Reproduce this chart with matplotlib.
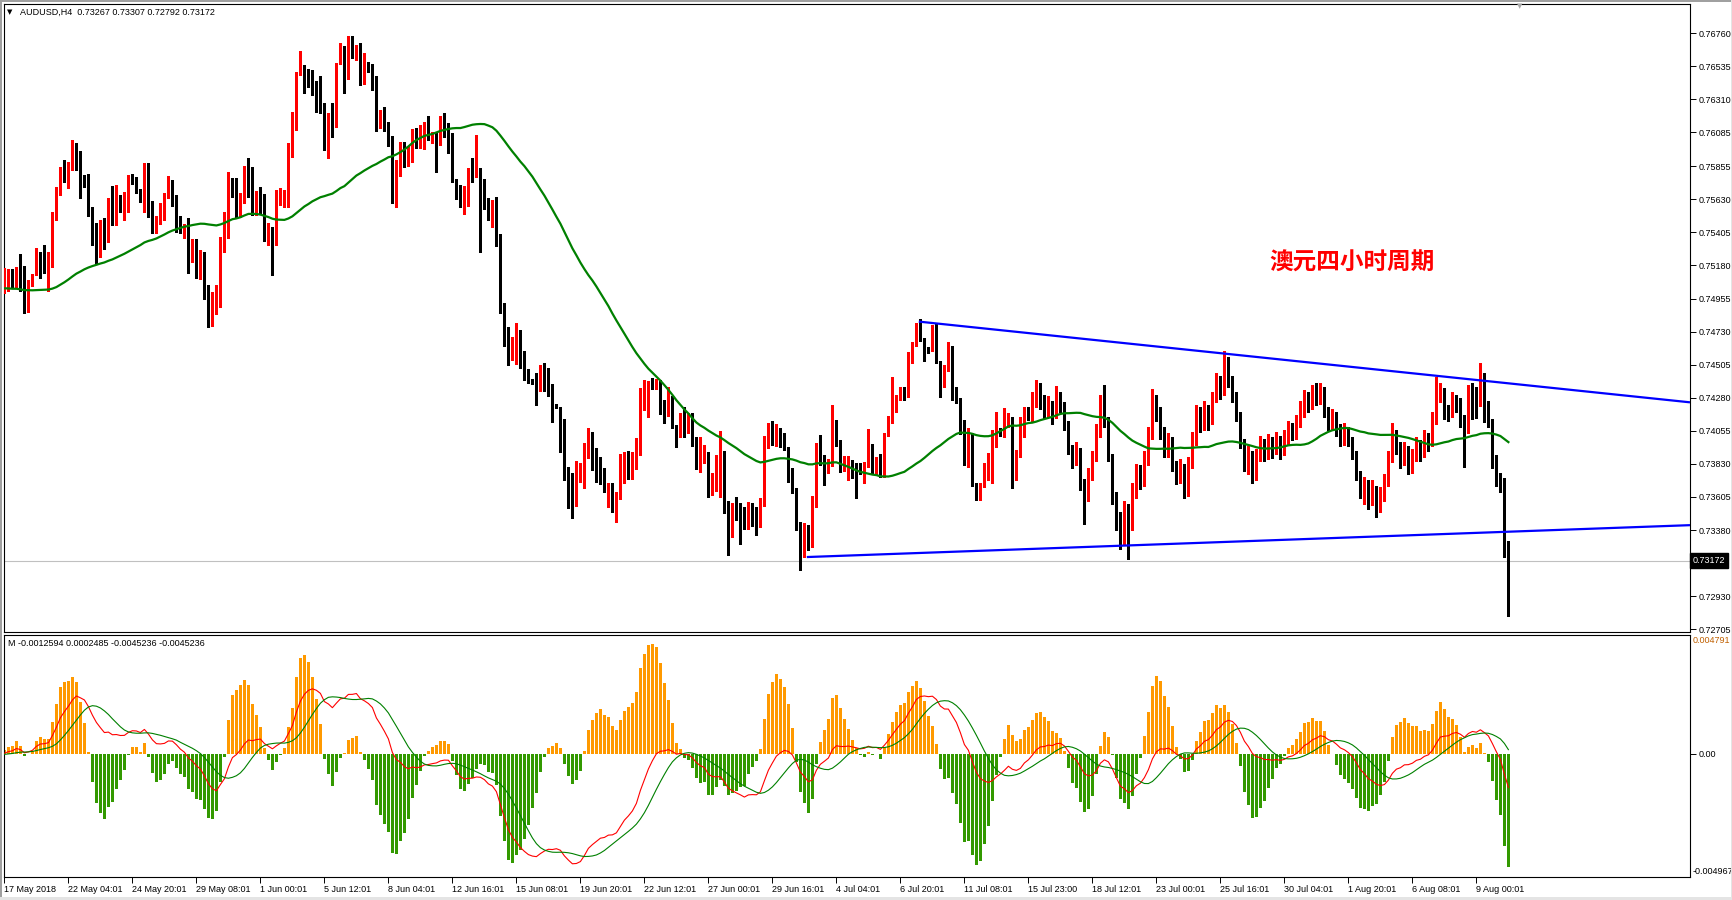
import numpy as np
import pandas as pd
import matplotlib
matplotlib.use("Agg")
import matplotlib.pyplot as plt
from matplotlib.patches import Rectangle
from matplotlib.transforms import blended_transform_factory

W, H = 1733, 900

# AUDUSD H4, 17 May 2018 12:01 .. 10 Aug 2018 08:01
open_first = 0.75002
close = [
    0.75040, 0.75086, 0.75070, 0.75150, 0.75013, 0.74893, 0.75066, 0.75111, 0.75252, 0.75218,
    0.75145, 0.75190, 0.75517, 0.75667, 0.75830, 0.75785, 0.75841, 0.75971, 0.75955, 0.75739,
    0.75735, 0.75517, 0.75372, 0.75365, 0.75406, 0.75383, 0.75612, 0.75472, 0.75599, 0.75553,
    0.75608, 0.75762, 0.75744, 0.75678, 0.75621, 0.75853, 0.75512, 0.75410, 0.75456, 0.75599,
    0.75644, 0.75751, 0.75653, 0.75485, 0.75410, 0.75433, 0.75267, 0.75326, 0.75218, 0.75229,
    0.75000, 0.74870, 0.74900, 0.74980, 0.75354, 0.75381, 0.75735, 0.75732, 0.75517, 0.75619,
    0.75755, 0.75717, 0.75531, 0.75626, 0.75615, 0.75376, 0.75426, 0.75403, 0.75660, 0.75678,
    0.75690, 0.75995, 0.76109, 0.76494, 0.76533, 0.76476, 0.76442, 0.76397, 0.76302, 0.76238,
    0.75982, 0.76215, 0.76152, 0.76556, 0.76619, 0.76515, 0.76714, 0.76601, 0.76674, 0.76415,
    0.76544, 0.76522, 0.76454, 0.76115, 0.76227, 0.76143, 0.76045, 0.75667, 0.75853, 0.75993,
    0.75870, 0.75932, 0.76095, 0.75982, 0.76039, 0.76109, 0.76039, 0.76061, 0.76057, 0.76125,
    0.76084, 0.76041, 0.75757, 0.75721, 0.75612, 0.75712, 0.75830, 0.75791, 0.75835, 0.75757,
    0.75635, 0.75501, 0.75542, 0.75326, 0.74866, 0.74700, 0.74571, 0.74605, 0.74639, 0.74485,
    0.74458, 0.74390, 0.74385, 0.74356, 0.74474, 0.74424, 0.74356, 0.74220, 0.74215, 0.74050,
    0.73771, 0.73723, 0.73641, 0.73739, 0.73761, 0.73929, 0.73993, 0.73845, 0.73807, 0.73789,
    0.73652, 0.73693, 0.73566, 0.73612, 0.73807, 0.73834, 0.73759, 0.73807, 0.73959, 0.74288,
    0.74299, 0.74390, 0.74383, 0.74400, 0.74254, 0.74174, 0.74224, 0.74083, 0.74020, 0.74170,
    0.74072, 0.74122, 0.73959, 0.73852, 0.73863, 0.73898, 0.73619, 0.73755, 0.73823, 0.73829,
    0.73539, 0.73414, 0.73517, 0.73489, 0.73453, 0.73392, 0.73566, 0.73471, 0.73426, 0.73560,
    0.73980, 0.74060, 0.74000, 0.74050, 0.73952, 0.73936, 0.73793, 0.73657, 0.73392, 0.73240,
    0.73369, 0.73267, 0.73551, 0.73952, 0.73861, 0.73771, 0.73811, 0.74106, 0.73970, 0.73784,
    0.73816, 0.73845, 0.73789, 0.73780, 0.73766, 0.73839, 0.73925, 0.73777, 0.73845, 0.73743,
    0.74034, 0.74118, 0.74224, 0.74276, 0.74338, 0.74330, 0.74587, 0.74639, 0.74787, 0.74673,
    0.74617, 0.74594, 0.74678, 0.74526, 0.74356, 0.74496, 0.74632, 0.74328, 0.74270, 0.74038,
    0.73857, 0.74043, 0.73693, 0.73607, 0.73693, 0.73811, 0.73816, 0.73952, 0.74050, 0.74034,
    0.74095, 0.74147, 0.73823, 0.73880, 0.74016, 0.74201, 0.74140, 0.74250, 0.74330, 0.74270,
    0.74180, 0.74240, 0.74160, 0.74290, 0.74230, 0.74090, 0.73930, 0.73850, 0.73920, 0.73700,
    0.73620, 0.73760, 0.73880, 0.74050, 0.74250, 0.74120, 0.73880, 0.73600, 0.73420, 0.73330,
    0.73520, 0.73400, 0.73640, 0.73780, 0.73700, 0.73860, 0.74030, 0.74250, 0.74180, 0.74050,
    0.73920, 0.73990, 0.73820, 0.73740, 0.73810, 0.73700, 0.73850, 0.74000, 0.74180, 0.74100,
    0.74200, 0.74120, 0.74280, 0.74400, 0.74330, 0.74480, 0.74400, 0.74290, 0.74150, 0.73980,
    0.73820, 0.73900, 0.73770, 0.73880, 0.73960, 0.73900, 0.73970, 0.73930, 0.73990, 0.73920,
    0.74000, 0.74080, 0.74030, 0.74110, 0.74200, 0.74280, 0.74220, 0.74320, 0.74270, 0.74340,
    0.74200, 0.74100, 0.74160, 0.74060, 0.74000, 0.74060, 0.73990, 0.73900, 0.73750, 0.73640,
    0.73700, 0.73590, 0.73660, 0.73570, 0.73620, 0.73700, 0.73870, 0.74020, 0.73950, 0.73850,
    0.73930, 0.73820, 0.73880, 0.73960, 0.73900, 0.74000, 0.73960, 0.74130, 0.74310, 0.74344,
    0.74156, 0.74150, 0.74265, 0.74231, 0.74118, 0.74043, 0.74367, 0.74328, 0.74226, 0.74390,
    0.74163, 0.74124, 0.73875, 0.73766, 0.73716, 0.73260, 0.73172,
]
high = [
    0.75161, 0.75154, 0.75154, 0.75172, 0.75258, 0.75179, 0.75082, 0.75122, 0.75297, 0.75274,
    0.75320, 0.75270, 0.75546, 0.75717, 0.75853, 0.75898, 0.75887, 0.76034, 0.76016, 0.75959,
    0.75796, 0.75803, 0.75576, 0.75467, 0.75490, 0.75501, 0.75637, 0.75721, 0.75728, 0.75660,
    0.75683, 0.75796, 0.75803, 0.75785, 0.75698, 0.75880, 0.75880, 0.75619, 0.75517, 0.75603,
    0.75671, 0.75789, 0.75762, 0.75660, 0.75517, 0.75462, 0.75501, 0.75358, 0.75358, 0.75286,
    0.75270, 0.75050, 0.75000, 0.75050, 0.75376, 0.75546, 0.75814, 0.75773, 0.75773, 0.75671,
    0.75855, 0.75909, 0.75853, 0.75687, 0.75717, 0.75667, 0.75472, 0.75444, 0.75694, 0.75705,
    0.75694, 0.76011, 0.76227, 0.76499, 0.76640, 0.76544, 0.76515, 0.76510, 0.76438, 0.76470,
    0.76284, 0.76220, 0.76284, 0.76560, 0.76696, 0.76674, 0.76742, 0.76742, 0.76680, 0.76692,
    0.76624, 0.76567, 0.76551, 0.76470, 0.76238, 0.76256, 0.76159, 0.76061, 0.75898, 0.76023,
    0.76023, 0.75993, 0.76107, 0.76113, 0.76136, 0.76154, 0.76197, 0.76091, 0.76091, 0.76197,
    0.76215, 0.76147, 0.76079, 0.75766, 0.75728, 0.75721, 0.75841, 0.75909, 0.76068, 0.75841,
    0.75766, 0.75642, 0.75626, 0.75644, 0.75394, 0.74927, 0.74759, 0.74696, 0.74787, 0.74741,
    0.74598, 0.74474, 0.74406, 0.74447, 0.74503, 0.74514, 0.74481, 0.74374, 0.74238, 0.74208,
    0.74134, 0.73812, 0.73766, 0.73850, 0.73834, 0.73970, 0.74072, 0.74049, 0.73936, 0.73875,
    0.73805, 0.73698, 0.73698, 0.73641, 0.73897, 0.73913, 0.73920, 0.73909, 0.74004, 0.74344,
    0.74401, 0.74396, 0.74412, 0.74410, 0.74390, 0.74265, 0.74351, 0.74292, 0.74095, 0.74179,
    0.74220, 0.74174, 0.74179, 0.74011, 0.74015, 0.73959, 0.73913, 0.73766, 0.73891, 0.74056,
    0.73920, 0.73580, 0.73566, 0.73607, 0.73562, 0.73539, 0.73573, 0.73562, 0.73539, 0.73600,
    0.74020, 0.74110, 0.74120, 0.74100, 0.74072, 0.74038, 0.73947, 0.73800, 0.73664, 0.73437,
    0.73430, 0.73414, 0.73612, 0.73975, 0.74027, 0.73891, 0.73861, 0.74231, 0.74129, 0.73993,
    0.73884, 0.73884, 0.73857, 0.73839, 0.73834, 0.73845, 0.74065, 0.73966, 0.73879, 0.73898,
    0.74038, 0.74156, 0.74424, 0.74299, 0.74351, 0.74351, 0.74594, 0.74660, 0.74791, 0.74814,
    0.74685, 0.74628, 0.74775, 0.74782, 0.74530, 0.74503, 0.74662, 0.74632, 0.74351, 0.74276,
    0.74129, 0.74072, 0.74043, 0.73702, 0.73698, 0.73834, 0.73902, 0.74061, 0.74186, 0.74072,
    0.74208, 0.74179, 0.74147, 0.73925, 0.74152, 0.74215, 0.74215, 0.74320, 0.74400, 0.74380,
    0.74300, 0.74290, 0.74260, 0.74360, 0.74320, 0.74250, 0.74120, 0.73960, 0.73980, 0.73940,
    0.73730, 0.73800, 0.73920, 0.74100, 0.74300, 0.74370, 0.74150, 0.73900, 0.73640, 0.73500,
    0.73580, 0.73560, 0.73700, 0.73830, 0.73820, 0.73920, 0.74080, 0.74340, 0.74300, 0.74220,
    0.74080, 0.74040, 0.74010, 0.73850, 0.73860, 0.73830, 0.73880, 0.74050, 0.74230, 0.74220,
    0.74260, 0.74230, 0.74320, 0.74450, 0.74430, 0.74600, 0.74560, 0.74430, 0.74320, 0.74180,
    0.74000, 0.73950, 0.73920, 0.73930, 0.74020, 0.74000, 0.74030, 0.74010, 0.74050, 0.74020,
    0.74060, 0.74120, 0.74110, 0.74160, 0.74260, 0.74330, 0.74320, 0.74370, 0.74380, 0.74380,
    0.74350, 0.74220, 0.74200, 0.74180, 0.74100, 0.74110, 0.74080, 0.74010, 0.73920, 0.73780,
    0.73740, 0.73720, 0.73720, 0.73680, 0.73670, 0.73760, 0.73920, 0.74110, 0.74060, 0.73980,
    0.73980, 0.73950, 0.73930, 0.74010, 0.73990, 0.74060, 0.74040, 0.74180, 0.74420, 0.74378,
    0.74344, 0.74231, 0.74322, 0.74299, 0.74276, 0.74163, 0.74367, 0.74378, 0.74356, 0.74519,
    0.74451, 0.74258, 0.74133, 0.73891, 0.73770, 0.73736, 0.73307,
]
low = [
    0.74990, 0.75009, 0.75025, 0.75036, 0.75009, 0.74859, 0.74866, 0.75043, 0.75161, 0.75093,
    0.75127, 0.75009, 0.75172, 0.75490, 0.75660, 0.75751, 0.75705, 0.75830, 0.75830, 0.75637,
    0.75712, 0.75517, 0.75320, 0.75199, 0.75240, 0.75290, 0.75342, 0.75456, 0.75456, 0.75546,
    0.75490, 0.75546, 0.75735, 0.75671, 0.75614, 0.75546, 0.75508, 0.75404, 0.75404, 0.75558,
    0.75490, 0.75637, 0.75585, 0.75410, 0.75404, 0.75365, 0.75132, 0.75206, 0.75093, 0.75086,
    0.74950, 0.74760, 0.74770, 0.74850, 0.74900, 0.75274, 0.75365, 0.75648, 0.75501, 0.75512,
    0.75603, 0.75648, 0.75524, 0.75524, 0.75540, 0.75349, 0.75320, 0.75116, 0.75320, 0.75592,
    0.75576, 0.75580, 0.75921, 0.76102, 0.76476, 0.76356, 0.76397, 0.76340, 0.76227, 0.76215,
    0.75966, 0.75914, 0.76052, 0.76125, 0.76551, 0.76356, 0.76447, 0.76590, 0.76578, 0.76408,
    0.76415, 0.76499, 0.76374, 0.76095, 0.76113, 0.76098, 0.75993, 0.75608, 0.75580, 0.75789,
    0.75850, 0.75857, 0.75887, 0.75977, 0.75977, 0.75971, 0.76034, 0.76011, 0.75819, 0.76000,
    0.76052, 0.75943, 0.75751, 0.75630, 0.75576, 0.75531, 0.75585, 0.75751, 0.75780, 0.75274,
    0.75562, 0.75490, 0.75444, 0.75315, 0.74859, 0.74632, 0.74503, 0.74537, 0.74510, 0.74481,
    0.74401, 0.74378, 0.74374, 0.74231, 0.74329, 0.74329, 0.74295, 0.74118, 0.74208, 0.73913,
    0.73721, 0.73528, 0.73460, 0.73546, 0.73709, 0.73668, 0.73868, 0.73789, 0.73709, 0.73693,
    0.73641, 0.73539, 0.73505, 0.73437, 0.73589, 0.73698, 0.73725, 0.73725, 0.73793, 0.73891,
    0.74197, 0.74147, 0.74337, 0.74337, 0.74170, 0.74111, 0.74156, 0.74072, 0.73943, 0.74011,
    0.74015, 0.74038, 0.73952, 0.73795, 0.73777, 0.73834, 0.73603, 0.73619, 0.73648, 0.73607,
    0.73498, 0.73210, 0.73331, 0.73448, 0.73283, 0.73387, 0.73385, 0.73408, 0.73346, 0.73400,
    0.73540, 0.73940, 0.73960, 0.73950, 0.73947, 0.73925, 0.73709, 0.73630, 0.73380, 0.73110,
    0.73195, 0.73244, 0.73262, 0.73539, 0.73823, 0.73687, 0.73766, 0.73834, 0.73952, 0.73777,
    0.73784, 0.73721, 0.73732, 0.73596, 0.73762, 0.73698, 0.73811, 0.73766, 0.73755, 0.73739,
    0.73739, 0.74020, 0.74111, 0.74186, 0.74265, 0.74265, 0.74288, 0.74519, 0.74632, 0.74669,
    0.74533, 0.74583, 0.74605, 0.74519, 0.74283, 0.74351, 0.74465, 0.74265, 0.74242, 0.74034,
    0.73823, 0.73811, 0.73680, 0.73585, 0.73585, 0.73671, 0.73721, 0.73698, 0.73947, 0.74020,
    0.74016, 0.74084, 0.73664, 0.73721, 0.73875, 0.74011, 0.74129, 0.74120, 0.74220, 0.74200,
    0.74140, 0.74150, 0.74100, 0.74140, 0.74180, 0.74060, 0.73900, 0.73800, 0.73820, 0.73650,
    0.73420, 0.73580, 0.73720, 0.73850, 0.74010, 0.74080, 0.73850, 0.73560, 0.73380, 0.73250,
    0.73280, 0.73180, 0.73380, 0.73600, 0.73660, 0.73680, 0.73820, 0.74000, 0.74120, 0.74000,
    0.73880, 0.73880, 0.73780, 0.73690, 0.73700, 0.73600, 0.73610, 0.73800, 0.73960, 0.74050,
    0.74060, 0.74060, 0.74100, 0.74250, 0.74270, 0.74300, 0.74350, 0.74250, 0.74120, 0.73940,
    0.73780, 0.73760, 0.73700, 0.73720, 0.73850, 0.73850, 0.73860, 0.73870, 0.73900, 0.73860,
    0.73890, 0.73960, 0.73990, 0.74000, 0.74080, 0.74150, 0.74180, 0.74200, 0.74230, 0.74240,
    0.74150, 0.74060, 0.74060, 0.74020, 0.73950, 0.73960, 0.73950, 0.73860, 0.73720, 0.73600,
    0.73560, 0.73520, 0.73550, 0.73470, 0.73500, 0.73580, 0.73680, 0.73840, 0.73900, 0.73800,
    0.73820, 0.73760, 0.73770, 0.73850, 0.73850, 0.73880, 0.73920, 0.73950, 0.74100, 0.74254,
    0.74133, 0.74124, 0.74147, 0.74186, 0.74084, 0.73811, 0.74043, 0.74133, 0.74140, 0.74226,
    0.74118, 0.74079, 0.73805, 0.73682, 0.73641, 0.73199, 0.72792,
]
# closes before the first visible bar, only used to seed MA(50) and MACD
warmup_close = [
    0.7512, 0.7518, 0.7515, 0.7521, 0.7516, 0.7510, 0.7514, 0.7519, 0.7513, 0.7508,
    0.7515, 0.7520, 0.7514, 0.7502, 0.7496, 0.7490, 0.7494, 0.7499, 0.7503, 0.7497,
    0.7491, 0.7488, 0.7493, 0.7498, 0.7501, 0.7505, 0.7500, 0.7495, 0.7492, 0.7497,
    0.7502, 0.7499, 0.7494, 0.7490, 0.7496, 0.7500, 0.7504, 0.7498, 0.7493, 0.7497,
    0.7501, 0.7505, 0.7502, 0.7498, 0.7501, 0.7504, 0.7500, 0.7497, 0.7501,
]

# trend lines drawn on the chart: anchor bars and prices
upper_line_bars = [228.6, 369.0]
upper_line_prices = [0.74798, 0.74398]
lower_line_bars = [200.6, 281.0]
lower_line_prices = [0.73196, 0.73275]

price_ticks = [0.72705, 0.72930, 0.73380, 0.73605, 0.73830, 0.74055, 0.74280, 0.74505, 0.74730,
               0.74955, 0.75180, 0.75405, 0.75630, 0.75855, 0.76085, 0.76310, 0.76535, 0.76760]
time_labels = ["17 May 2018", "22 May 04:01", "24 May 20:01", "29 May 08:01", "1 Jun 00:01",
               "5 Jun 12:01", "8 Jun 04:01", "12 Jun 16:01", "15 Jun 08:01", "19 Jun 20:01",
               "22 Jun 12:01", "27 Jun 00:01", "29 Jun 16:01", "4 Jul 04:01", "6 Jul 20:01",
               "11 Jul 08:01", "15 Jul 23:00", "18 Jul 12:01", "23 Jul 00:01", "25 Jul 16:01",
               "30 Jul 04:01", "1 Aug 20:01", "6 Aug 08:01", "9 Aug 00:01"]
label_every = 16

assert len(close) == len(high) == len(low) == 377

c = np.array(close)
hi = np.array(high)
lo = np.array(low)
o = np.r_[open_first, c[:-1]]
n = len(c)
x = np.arange(n)

# indicators
s = pd.Series(warmup_close + close)
k = len(warmup_close)
ma50 = s.rolling(50).mean().to_numpy()[k:]
macd = s.ewm(span=12, adjust=False).mean() - s.ewm(span=26, adjust=False).mean()
signal = macd.rolling(9).mean()
hist = (3 * (macd - signal)).to_numpy()[k:]
macd = macd.to_numpy()[k:]
signal = signal.to_numpy()[k:]

plt.rcParams['font.family'] = ['Liberation Sans', 'DejaVu Sans']
fig = plt.figure(figsize=(W / 100, H / 100), dpi=100)


def pane(x0, y0, x1, y1):
    return fig.add_axes([x0 / W, 1 - y1 / H, (x1 - x0) / W, (y1 - y0) / H])


ax = pane(4, 4, 1690, 632)
ax2 = pane(4, 635, 1690, 877)
XL = (-0.1, 421.4)
FS = 6.5

for a in (ax, ax2):
    a.set_xlim(*XL)
    for sp in a.spines.values():
        sp.set_linewidth(0.8)
        sp.set_color('black')

# --- price pane ---
ax.set_ylim(0.72686, 0.76959)
last = c[-1]
ax.axhline(last, color='#C0C0C0', lw=0.8, zorder=1)

col = np.where(c > o, '#FF0000', '#000000')
ax.vlines(x, lo, hi, colors=col, lw=0.75, antialiased=False, zorder=3)
ax.bar(x, np.maximum(np.abs(c - o), 6e-5), bottom=np.minimum(o, c), width=0.75,
       color=col, linewidth=0, antialiased=False, zorder=3)

ax.plot(x, ma50, color='#008000', lw=1.6, zorder=4)

for bars, prices in ((upper_line_bars, upper_line_prices), (lower_line_bars, lower_line_prices)):
    slope = (prices[1] - prices[0]) / (bars[1] - bars[0])
    ax.plot([bars[0], XL[1]], [prices[0], prices[0] + slope * (XL[1] - bars[0])],
            color='#0000FF', lw=1.6, zorder=5, solid_capstyle='butt')

ax.yaxis.tick_right()
ax.set_yticks(price_ticks, [f"{v:.5f}" for v in price_ticks])
ax.tick_params(axis='y', direction='out', length=4, width=0.7, pad=2, labelsize=FS)
ax.tick_params(axis='x', bottom=False, labelbottom=False)

tr = blended_transform_factory(ax.transAxes, ax.transData)
ax.text(1 + 3 / 1686, last, f"{last:.5f}", transform=tr, color='white', fontsize=FS,
        va='center', ha='left', clip_on=False,
        bbox=dict(boxstyle='square,pad=0.3', fc='black', ec='black'))

fig.text(1269 / W, 1 - 263 / H, "澳元四小时周期", color='#FF0000', fontsize=17,
         fontweight='bold', family=['Noto Sans CJK SC', 'DejaVu Sans'], va='center', ha='left')

# --- indicator pane ---
ax2.set_ylim(-0.004967, 0.004791)
ax2.bar(x, hist, width=0.75, color=np.where(hist >= 0, '#FF9900', '#339900'),
        linewidth=0, antialiased=False, zorder=2)
ax2.plot(x, macd, color='#FF0000', lw=0.8, zorder=3)
ax2.plot(x, signal, color='#008000', lw=0.8, zorder=3)

ax2.yaxis.tick_right()
ax2.set_yticks([0.0], ["0.00"])
ax2.tick_params(axis='y', direction='out', length=4, width=0.7, pad=2, labelsize=FS)
ax2.set_xticks(range(0, n, label_every)[:len(time_labels)], time_labels)
ax2.tick_params(axis='x', direction='out', length=4, width=0.7, pad=1.5, labelsize=FS)
for t in ax2.get_xticklabels():
    t.set_ha('left')
ax2.text(1 + 3 / 1686, 0.995, "0.004791", transform=ax2.transAxes, fontsize=FS,
         color='#C06000', va='top', ha='left', clip_on=False)
ax2.text(1 + 3 / 1686, 0.005, "-0.004967", transform=ax2.transAxes, fontsize=FS,
         color='black', va='bottom', ha='left', clip_on=False)

# --- headers and window frame ---
fig.text(7 / W, 1 - 12 / H, "▼", fontsize=5, va='center', ha='left', family='DejaVu Sans')
fig.text(20 / W, 1 - 12 / H, "AUDUSD,H4  0.73267 0.73307 0.72792 0.73172",
         fontsize=FS, va='center', ha='left')
fig.text(8 / W, 1 - 644 / H, "M -0.0012594 0.0002485 -0.0045236 -0.0045236",
         fontsize=FS, va='center', ha='left')
fig.text(1520 / W, 1 - 6 / H, "▼", fontsize=5, va='center', ha='center',
         color='#A8A8A8', family='DejaVu Sans')

fig.add_artist(Rectangle((0, 1 - 2 / H), 1, 2 / H, transform=fig.transFigure, color='#A0A0A0', lw=0))
fig.add_artist(Rectangle((0, 0), 2 / W, 1, transform=fig.transFigure, color='#A0A0A0', lw=0))
fig.add_artist(Rectangle((0, 0), 1, 3 / H, transform=fig.transFigure, color='#E4E4E4', lw=0))
fig.add_artist(Rectangle((1 - 2 / W, 0), 2 / W, 1, transform=fig.transFigure, color='#E4E4E4', lw=0))

fig.savefig("out.png", dpi=100)
